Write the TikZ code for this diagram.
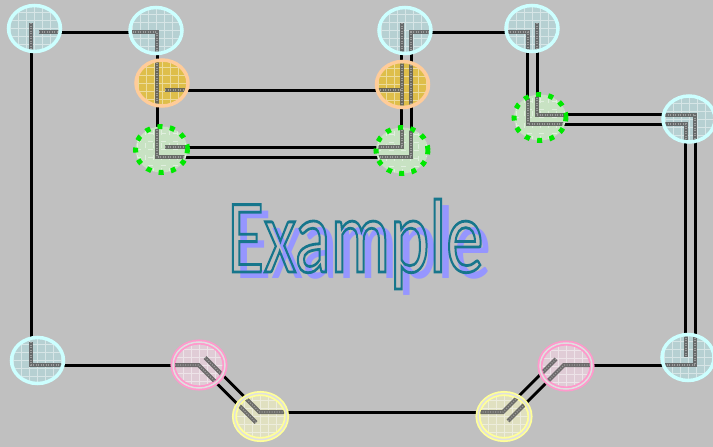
\documentclass[tikz,border=0pt]{standalone}
\usepackage{fontspec}
\newfontfamily\labelfont{Carlito}
\usetikzlibrary{shapes.geometric,calc}
\pgfdeclarelayer{bg}
\pgfdeclarelayer{edges}
\pgfsetlayers{bg,edges,main}
\definecolor{bggray}{RGB}{192,192,192}
\definecolor{cyanrim}{RGB}{204,255,255}
\definecolor{cyanfill}{RGB}{182,208,210}
\definecolor{orangerim}{RGB}{255,204,153}
\definecolor{orangefill}{RGB}{222,190,74}
\definecolor{greenrim}{RGB}{0,232,0}
\definecolor{greenfill}{RGB}{200,226,195}
\definecolor{pinkrim}{RGB}{255,153,204}
\definecolor{pinkfill}{RGB}{224,204,214}
\definecolor{yellowrim}{RGB}{255,255,153}
\definecolor{yellowfill}{RGB}{224,224,192}
\definecolor{titleteal}{RGB}{22,118,140}
\definecolor{shadowblue}{RGB}{150,150,255}
\tikzset{
	stn/.style={ellipse, minimum width=52pt, minimum height=46pt, inner sep=0pt, line width=3.5pt,
		path picture={\draw[gridline] (path picture bounding box.south west) grid (path picture bounding box.north east);}},
	gridline/.style={white, opacity=0.45, line width=0.6pt, step=8pt},
	term/.style={stn, draw=cyanrim, fill=cyanfill},
	junc/.style={stn, draw=orangerim, fill=orangefill},
	cross/.style={stn, draw=greenrim, fill=greenfill, line width=5pt, dash pattern=on 5pt off 7.5pt},
	slipa/.style={stn, draw=pinkrim, fill=pinkfill, line width=1.8pt, double=gray!25, double distance=1.5pt},
	slipb/.style={stn, draw=yellowrim, fill=yellowfill, line width=1.8pt, double=gray!25, double distance=1.5pt},
	wire/.style={line width=3pt},
	dbl/.style={line width=3pt, double=bggray, double distance=7pt},
	track/.style={line width=4pt, draw=black!65, opacity=0.85, postaction={draw=black!35, line width=1.2pt, dash pattern=on 1pt off 1.5pt}}
}
\def\tracks(#1)#2;{\begin{scope}\clip[shift={(#1)}] (0,0) ellipse (24 and 21); \draw[track] #2; \end{scope}}

\begin{document}
\begin{tikzpicture}[x=1pt,y=-1pt]
	%%%%% START %%%%%
	\useasboundingbox (0,0) rectangle (713,447);
	\begin{pgfonlayer}{bg}
		\fill[bggray] (0,0) rectangle (713,447);
	\end{pgfonlayer}
	
	% upper loop
	\node[term] (n1) at (34.5,28.5) {};
	\node[term] (n2) at (156,30.5) {};
	\node[junc] (n3) at (162,83) {};
	\node[cross] (n4) at (161.5,149.5) {};
	\node[term] (n5) at (405,30.5) {};
	\node[term] (n6) at (532,28.5) {};
	\node[junc] (n7) at (402.5,84.5) {};
	\node[cross] (n8) at (402,150.5) {};
	\node[cross] (n9) at (540,117.5) {};
	\node[term] (n10) at (689,119) {};
	
	% lower line
	\node[term] (n11) at (688,357.5) {};
	\node[slipa] (n12) at (566,366) {};
	\node[slipb] (n13) at (504,416.5) {};
	\node[slipb] (n14) at (260.5,416.5) {};
	\node[slipa] (n15) at (199,365) {};
	\node[term] (n16) at (37.5,360.5) {};
	
	\begin{pgfonlayer}{edges}
		\draw[wire] ([shift={(0,3.5)}]n1.center) -- ([shift={(0,1.5)}]n2.center);
		\draw[wire] ([shift={(-3.5,0)}]n1.center) -- ([shift={(-6.5,0)}]n16.center);
		\draw[wire] ([shift={(1,0)}]n2.center) -- ([shift={(-5,0)}]n3.center);
		\draw[wire] ([shift={(-5,0)}]n3.center) -- ([shift={(-4.5,0)}]n4.center);
		\draw[wire] ([shift={(0,7)}]n3.center) -- ([shift={(0,5.5)}]n7.center);
		\draw[dbl] ([shift={(0,2.5)}]n4.center) -- ([shift={(0,1.5)}]n8.center);
		\draw[wire] ([shift={(0,1.5)}]n5.center) -- ([shift={(0,3.5)}]n6.center);
		\draw[dbl] ([shift={(1.5,0)}]n5.center) -- ([shift={(4,0)}]n7.center);
		\draw[dbl] ([shift={(4,0)}]n7.center) -- ([shift={(4.5,0)}]n8.center);
		\draw[dbl] ([shift={(0.5,0)}]n6.center) -- ([shift={(-7.5,0)}]n9.center);
		\draw[dbl] ([shift={(0,2)}]n9.center) -- ([shift={(0,0.5)}]n10.center);
		\draw[dbl] ([shift={(1.5,0)}]n10.center) -- ([shift={(2.5,0)}]n11.center);
		\draw[wire] ([shift={(0,7.5)}]n11.center) -- ([shift={(0,-1)}]n12.center);
		\draw[dbl] ([shift={(-8,-2)}]n12.center) -- ([shift={(10,-8.5)}]n13.center);
		\draw[wire] ([shift={(0,-4.5)}]n13.center) -- ([shift={(0,-4.5)}]n14.center);
		\draw[dbl] ([shift={(-10.5,-7)}]n14.center) -- ([shift={(11,4.5)}]n15.center);
		\draw[wire] (n15.center) -- ([shift={(0,4.5)}]n16.center);
	\end{pgfonlayer}
	
	% rails inside the nodes
	\tracks(n1) (31,23) -- (31,60) (39,32) -- (70,32);
	\tracks(n2) (120,32) -- (157,32) -- (157,60);
	\tracks(n3) (157,50) -- (157,115) (165,90) -- (200,90);
	\tracks(n4) (157,115) -- (157,157) -- (200,157) (165,147) -- (200,147);
	\tracks(n5) (402,23) -- (402,60) (411,60) -- (411,32) -- (440,32);
	\tracks(n6) (500,32) -- (528,32) -- (528,60) (537,23) -- (537,60);
	\tracks(n7) (402,55) -- (402,115) (411,55) -- (411,115) (370,90) -- (402,90);
	\tracks(n8) (402,120) -- (402,147) -- (370,147) (411,120) -- (411,157) -- (370,157);
	\tracks(n9) (528,90) -- (528,124) -- (570,124) (537,90) -- (537,115) -- (570,115);
	\tracks(n10) (660,115) -- (695,115) -- (695,150) (660,124) -- (686,124) -- (686,150);
	\tracks(n11) (686,325) -- (686,357) (695,325) -- (695,365) -- (660,365);
	\tracks(n12) (600,365) -- (564,365) -- (534,395) (556,359) -- (530,385);
	\tracks(n13) (470,412) -- (503,412) -- (533,382) (508,421) -- (535,394);
	\tracks(n14) (295,412) -- (259.5,412) -- (229,381.5) (256,422.5) -- (226,392.5);
	\tracks(n15) (165,365) -- (198.5,365) -- (230,396.5) (205,357.5) -- (235,387.5);
	\tracks(n16) (31,342) -- (31,365) -- (70,365);
	
	% title
	\node[anchor=base, text=shadowblue, font=\labelfont\fontsize{105}{105}\selectfont] (shadow) at (363.5,278) {\scalebox{0.71}[1]{Example}};
	\node[anchor=base, text=titleteal, font=\labelfont\fontsize{105}{105}\selectfont] (title) at (355.5,272) {\scalebox{0.71}[1]{\special{pdf:literal direct 1 Tr 2.8 w}Example\special{pdf:literal direct 0 Tr}}};
	
	%%%%% END %%%%%
\end{tikzpicture}
\end{document}
